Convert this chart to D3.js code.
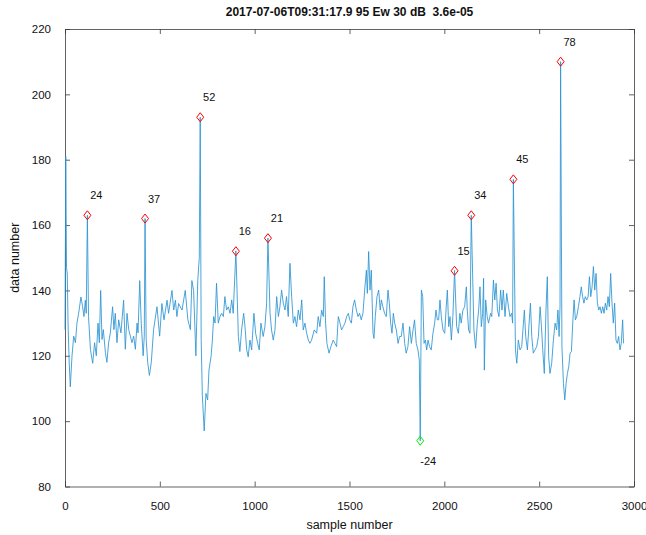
<!DOCTYPE html>
<html><head><meta charset="utf-8">
<script src="https://cdn.jsdelivr.net/npm/d3@7"></script>
<style>body{margin:0;background:#fff}svg{display:block}</style>
</head><body><svg id="c" width="646" height="535"></svg>
<script>
const title = "2017-07-06T09:31:17.9 95 Ew 30 dB  3.6e-05";
const xLabel = "sample number";
const yLabel = "data number";
const xTicks = [0, 500, 1000, 1500, 2000, 2500, 3000];
const yTicks = [80, 100, 120, 140, 160, 180, 200, 220];

const samples = [0,4,8,12,16,22,28,37,46,55,63,72,84,93,100,107,112,118,124,134,146,156,165,174,181,188,195,202,213,221,230,239,251,258,265,274,283,295,309,318,327,336,353,362,371,380,385,394,402,412,418,422,428,436,445,455,467,485,499,511,522,538,546,564,573,582,590,599,617,634,648,661,669,678,687,690,700,708,713,718,724,734,
743,752,759,770,777,784,791,799,808,817,826,835,843,852,861,870,879,887,901,914,922,931,942,949,958,966,975,984,996,1005,1016,1024,1033,1045,1054,1063,1070,1081,1089,1098,1107,1116,1125,1133,1142,1151,1160,1168,1177,1186,1195,1204,1212,1221,1230,1239,1248,1256,1265,1274,1283,1291,1300,1314,1327,1335,1344,1353,1362,1367,1374,1381,1392,1402,1414,1423,1432,1441,1450,1458,1467,1476,1485,1494,
1501,1510,1518,1527,1536,1545,1553,1562,1571,1580,1589,1594,1601,1608,1615,1624,1629,1636,1645,1654,1662,1668,1676,1685,1694,1703,1710,1717,1724,1731,1738,1747,1756,1764,1773,1782,1791,1799,1808,1817,1826,1835,1843,1852,1861,1868,1873,1879,1886,1893,1900,1907,1914,1922,1931,1940,1949,1956,1963,1970,1977,1984,1993,2002,2010,2016,2023,2030,2037,2045,2054,2065,2074,2082,2089,2098,2107,2116,2121,2128,2135,2142,2156,2165,2174,2181,2188,2195,2202,2207,2211,2218,2226,2233,2244,
2250,2259,2266,2273,2280,2288,2297,2304,2311,2320,2329,2338,2346,2355,2360,2364,2375,2382,2390,2399,2408,2417,2422,2429,2438,2447,2454,2461,2469,2478,2487,2496,2505,2512,2519,2527,2536,2543,2550,2557,2566,2575,2584,2592,2599,2605,2610,2613,2620,2628,2635,2642,2649,2656,2663,2670,2677,2684,2691,2698,2707,2715,2722,2729,2736,2743,2751,2758,2765,2772,2779,2786,2793,2800,2807,2814,2821,2828,2835,2842,2849,2856,2863,2870,2877,2884,2891,2898,2905,2912,2919,2926,2933,2940,2945];

const values = [128,181,147,145,130,118,110.5,120,126,124,130,133,138,135,132,137,133,163,132,122,117.7,124,120,130,124,140,125,128,121,118,124,127,135,128,133,124,131,127,137,122,133,128,124,126,122,130,127,143,130,120,126,162,125,118,114,118,128,135,126,136,131,137,133,140,134,137,132,136,134,140,131,128,143,140,125,120,143,150,193,125,108,97,
108.5,106.5,115.6,119.7,124.8,132,130,142.2,130,132,133,132,138.1,134,135,133,137.1,133,152.1,125.9,121.3,127.9,133,128.9,121.8,119.7,124.8,121.8,133,126.9,123.8,121.8,130,125.9,128.9,136.1,156,133,127.9,124.8,127.9,138.1,132,135,140.1,136.1,134,138.1,132,148.3,138.1,130,132,128.9,134,131,137.1,127.9,130,126.9,124.8,123.8,124.8,127.9,126.9,132,128.9,134,132,144.2,130,123.8,120.8,122.8,124.8,123.8,122.8,132,130,127.9,128.9,130,132,133,
131,130,135,137.1,134,132,133,131,133,140.1,146.2,139.1,151.9,140.1,146.2,126.9,125.3,132,138.1,140.1,134,137.1,135,133,132,140.1,136.1,130,126.9,133,130,127.9,123.8,125.9,125.9,130,123.8,120.8,122.8,128.9,123.8,127.9,131,123.8,121.8,118.7,94,140.1,138.1,123.8,124.8,121.8,124.8,122.8,121.8,126.9,130,134,131,131,137.1,132,127.9,126.9,135,140.1,128.9,132,124.8,132,146.1,128.9,126.9,133,130,134,135,141.1,134,127.9,126.9,163,127.9,122.3,130,134,141.1,128.9,133,143.7,115.6,137.1,132,130,133,
132,143.2,137.1,142.2,134,132,140.1,134,140.1,132,139.1,135,132,133,130,174,121.8,117.7,124.8,121.8,122.8,130,134,125.9,121.8,130,136.1,125.9,120.8,121.8,122.8,125.9,135,128.9,121.8,114.6,134,144.2,119.7,114.6,117.7,124.8,130,127.9,134,125.9,135,210,122.8,111.6,106.5,111.6,114.6,116.7,120.8,121.3,130,137.1,131,132,135,138.1,141.1,138.1,136.1,138.1,137.1,138.1,144.2,138.1,141.1,147.3,140.1,145.2,136.1,134,135,133,135,133,136.1,134,138.1,135,145.2,136.1,130,136.1,124.8,123.8,125.9,121.8,123.8,131,123.8];

const peakSamples = [118, 422, 713, 901, 1070, 2054, 2142, 2364, 2613];
const peakValues  = [163, 162, 193, 152, 156, 146, 163, 174, 210];
const peakLabels  = ["24", "37", "52", "16", "21", "15", "34", "45", "78"];
const troughSamples = [1873];
const troughValues  = [94];
const troughLabels  = ["-24"];

const svg = d3.select("#c");
const L = 65, R = 634, T = 29, B = 486.5;
const x = d3.scaleLinear().domain([0, 3000]).range([L, R]);
const y = d3.scaleLinear().domain([80, 220]).range([B, T]);
const font = "'Liberation Sans', Arial, Helvetica, sans-serif";
const axisCol = "#3a3a3a";

// axes
const gx = svg.append("g").attr("transform", `translate(0,${B})`)
  .call(d3.axisBottom(x).tickValues(xTicks).tickSizeInner(-5).tickSizeOuter(0).tickPadding(15).tickFormat(d3.format("d")));
const gy = svg.append("g").attr("transform", `translate(${L},0)`)
  .call(d3.axisLeft(y).tickValues(yTicks).tickSizeInner(-5).tickSizeOuter(0).tickPadding(14).tickFormat(d3.format("d")));
const gt = svg.append("g").attr("transform", `translate(0,${T})`)
  .call(d3.axisTop(x).tickValues(xTicks).tickSizeInner(-5).tickSizeOuter(0).tickFormat(""));
const gr = svg.append("g").attr("transform", `translate(${R},0)`)
  .call(d3.axisRight(y).tickValues(yTicks).tickSizeInner(-5).tickSizeOuter(0).tickFormat(""));
[gx, gy, gt, gr].forEach(g => {
  g.select(".domain").attr("stroke", axisCol).attr("stroke-width", 0.8);
  g.selectAll(".tick line").attr("stroke", axisCol).attr("stroke-width", 0.8);
  g.selectAll(".tick text").attr("fill", "#111").style("font-family", font).style("font-size", "11.5px");
});

// data line
const pts = samples.map((s, i) => [s, values[i]]);
svg.append("path").datum(pts)
  .attr("fill", "none").attr("stroke", "#2a93d2").attr("stroke-width", 0.85)
  .attr("stroke-linejoin", "round")
  .attr("d", d3.line().x(d => x(d[0])).y(d => y(d[1])));

// markers
function diamond(cx, cy) {
  return `M${cx},${cy - 4.5}L${cx + 3.5},${cy}L${cx},${cy + 4.5}L${cx - 3.5},${cy}Z`;
}
svg.selectAll("path.pk").data(peakSamples).join("path").attr("class", "pk")
  .attr("d", (s, i) => diamond(x(s), y(peakValues[i])))
  .attr("fill", "none").attr("stroke", "#ff0000").attr("stroke-width", 1);
svg.selectAll("text.pkl").data(peakSamples).join("text").attr("class", "pkl")
  .attr("x", (s, i) => x(s) + 9).attr("y", (s, i) => y(peakValues[i]) - 20)
  .attr("text-anchor", "middle").attr("dominant-baseline", "central")
  .style("font-family", font).style("font-size", "11px").attr("fill", "#111")
  .text((s, i) => peakLabels[i]);
svg.selectAll("path.tr").data(troughSamples).join("path").attr("class", "tr")
  .attr("d", (s, i) => diamond(x(s), y(troughValues[i])))
  .attr("fill", "none").attr("stroke", "#00ee00").attr("stroke-width", 1);
svg.selectAll("text.trl").data(troughSamples).join("text").attr("class", "trl")
  .attr("x", (s, i) => x(s) + 8).attr("y", (s, i) => y(troughValues[i]) + 20)
  .attr("text-anchor", "middle").attr("dominant-baseline", "central")
  .style("font-family", font).style("font-size", "11px").attr("fill", "#111")
  .text((s, i) => troughLabels[i]);

// texts
svg.append("text").attr("x", (L + R) / 2).attr("y", 16).attr("text-anchor", "middle")
  .style("font-family", font).style("font-size", "12px").style("font-weight", "bold")
  .style("white-space", "pre").attr("fill", "#111")
  .text(title);
svg.append("text").attr("x", (L + R) / 2).attr("y", 529).attr("text-anchor", "middle")
  .style("font-family", font).style("font-size", "12.5px").attr("fill", "#111").text(xLabel);
svg.append("text").attr("transform", `translate(19,${(T + B) / 2}) rotate(-90)`).attr("text-anchor", "middle")
  .style("font-family", font).style("font-size", "12.5px").attr("fill", "#111").text(yLabel);
</script></body></html>
